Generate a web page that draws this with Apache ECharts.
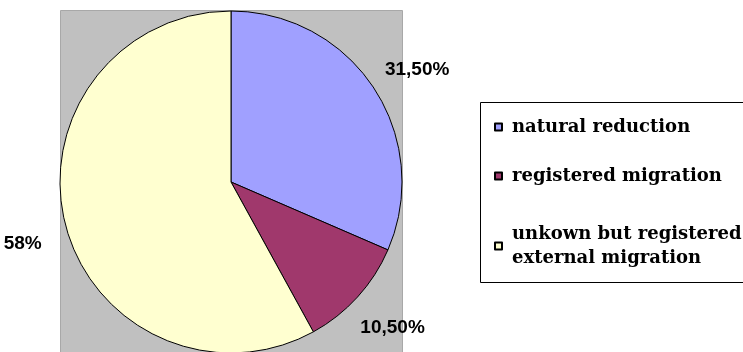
<!DOCTYPE html>
<html><head><meta charset="utf-8">
<script src="https://cdn.jsdelivr.net/npm/echarts@6/dist/echarts.min.js"></script>
<style>html,body{margin:0;padding:0;background:#fff}#c{width:743px;height:352px}</style>
</head><body><div id="c"></div>
<script>
const categories = ['natural reduction', 'registered migration', 'unkown but registered\nexternal migration'];
const values = [31.5, 10.5, 58];
const valueLabels = ['31,50%', '10,50%', '58%'];
const colors = ['#a0a0ff', '#a0386c', '#ffffd0'];

const legendTops = [110, 159, 217];
const labelShift = [[-4, -12], [-11, 23], [-7, 16]];

const chart = echarts.init(document.getElementById('c'), null, {renderer: 'canvas'});
const legendText = {fontFamily: 'DejaVu Serif', fontWeight: 'bold', fontSize: 18, color: '#000', lineHeight: 24, padding: [0, 0, 0, 5]};
chart.setOption({
  animation: false,
  graphic: [
    {type: 'rect', shape: {x: 60.5, y: 10.5, width: 342, height: 350}, style: {fill: '#c0c0c0', stroke: '#a8a8a8', lineWidth: 1}, z: 0},
    {type: 'rect', shape: {x: 480.5, y: 102.5, width: 270, height: 180}, style: {fill: '#fff', stroke: '#000', lineWidth: 1}, z: 0}
  ],
  legend: categories.map((c, i) => ({
    data: [c], orient: 'vertical', left: 489, top: legendTops[i],
    itemWidth: 7, itemHeight: 7, itemGap: 4, icon: 'rect',
    textStyle: legendText, selectedMode: false
  })),
  series: [{
    type: 'pie', center: [231, 182], radius: 171, startAngle: 90, clockwise: true,
    silent: true,
    itemStyle: {borderColor: '#000', borderWidth: 1},
    label: {
      position: 'outside',
      formatter: p => valueLabels[p.dataIndex],
      fontFamily: 'Liberation Sans', fontWeight: 'bold', fontSize: 19, color: '#000'
    },
    labelLine: {show: false, length: 12, length2: 0},
    labelLayout: p => ({dx: labelShift[p.dataIndex][0], dy: labelShift[p.dataIndex][1]}),
    avoidLabelOverlap: false,
    data: categories.map((c, i) => ({name: c, value: values[i], itemStyle: {color: colors[i]}}))
  }]
});
</script></body></html>
